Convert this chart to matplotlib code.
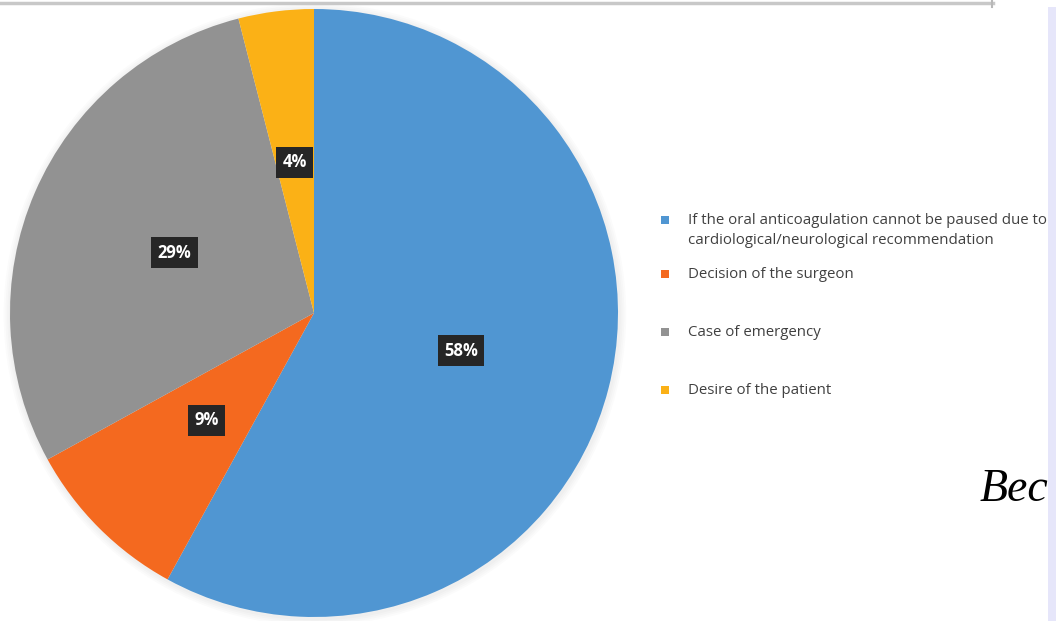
import matplotlib
matplotlib.use("Agg")
import matplotlib.pyplot as plt
from matplotlib.patches import Circle, Rectangle

# reasons for continuing oral anticoagulation (%)
labels = [
    "If the oral anticoagulation cannot be paused due to\ncardiological/neurological recommendation",
    "Decision of the surgeon",
    "Case of emergency",
    "Desire of the patient",
]
shares = [58, 9, 29, 4]
colors = ["#5096d2", "#f4691f", "#929292", "#fbb116"]

W, H = 1056, 621
fig = plt.figure(figsize=(W / 100, H / 100), dpi=100)
fig.patch.set_facecolor("white")
FONT = ["Open Sans", "DejaVu Sans"]

# pie axes in pixel units: centre (314, 313), radius 304
cx, cy, r = 314, 313, 304
ax = fig.add_axes([(cx - r) / W, (H - cy - r) / H, 2 * r / W, 2 * r / H])

# faint shadow behind the pie
for k in range(4):
    ax.add_patch(Circle((0.003, -0.005), 1.0 + 0.006 * (4 - k), color="#808080",
                        alpha=0.03, lw=0, zorder=0, clip_on=False))

wedges, texts, autotexts = ax.pie(
    shares, colors=colors, startangle=90, counterclock=False, radius=1.0,
    autopct=lambda p: f"{p:.0f}%", pctdistance=0.5,
    wedgeprops=dict(linewidth=0, clip_on=False))
ax.set_xlim(-1, 1)
ax.set_ylim(-1, 1)
ax.set_aspect("equal")
ax.axis("off")

for t in autotexts:
    t.set_color("white")
    t.set_fontsize(12)
    t.set_fontweight("bold")
    t.set_family(FONT)
    t.set_bbox(dict(boxstyle="square,pad=0.38", facecolor="#262626", edgecolor="none"))

# legend drawn by hand
rows_y = [220, 274, 332, 390]
for lab, col, y in zip(labels, colors, rows_y):
    fig.patches.append(Rectangle((661 / W, (H - y - 4) / H), 8 / W, 8 / H,
                                 transform=fig.transFigure, facecolor=col,
                                 edgecolor="none"))
    for j, line in enumerate(lab.split("\n")):
        fig.text(688 / W, (H - y - 21 * j) / H, line, ha="left", va="center",
                 fontsize=10.8, color="#404040", family=FONT)

# page furniture around the figure
fig.add_artist(plt.Line2D([0, 993 / W], [1 - 3 / H, 1 - 3 / H], color="#c8c8c8", lw=2.5))
fig.add_artist(plt.Line2D([992 / W, 992 / W], [1 - 1 / H, 1 - 7 / H], color="#b8b8b8", lw=1.5))
fig.text(980 / W, (H - 490) / H, "Bec", fontsize=33, style="italic",
         family=["Liberation Serif", "DejaVu Serif"], color="black", va="center", ha="left")
fig.patches.append(Rectangle((1048 / W, 0), 8 / W, 1 - 7 / H, transform=fig.transFigure,
                             facecolor="#e6e6fa", edgecolor="none", zorder=5))

fig.savefig("out.png", dpi=100)
